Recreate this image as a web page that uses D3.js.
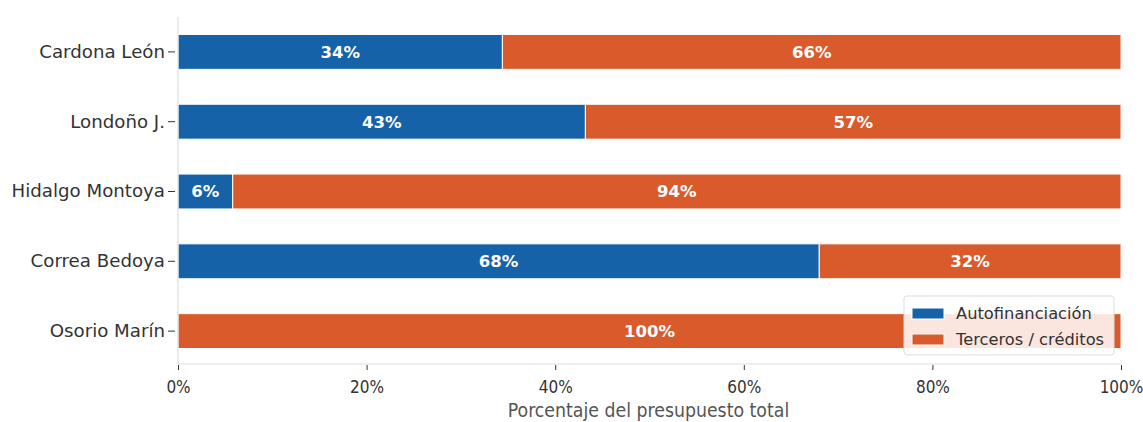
<!DOCTYPE html>
<html><head><meta charset="utf-8">
<script src="https://cdn.jsdelivr.net/npm/d3@7"></script>
<style>body{margin:0;background:#fff;}svg{display:block;}</style>
</head><body><svg id="c" width="1143" height="422"></svg>
<script>
const categories = ["Cardona León","Londoño J.","Hidalgo Montoya","Correa Bedoya","Osorio Marín"];
const autofin = [34.4, 43.2, 5.8, 68.0, 0];
const terceros = [65.6, 56.8, 94.2, 32.0, 100];
const seriesNames = ["Autofinanciación","Terceros / créditos"];
const xTicks = [0,20,40,60,80,100];
const colors = ["#1662a8","#d95b2c"];

const svg = d3.select("#c");
const m = {l:178, r:1121, t:17, b:364};
const x = d3.scaleLinear().domain([0,100]).range([m.l, m.r]);
const y = d3.scaleBand().domain(categories).range([m.t, m.t + 349]).paddingInner(0.5).paddingOuter(0.25);

const rows = categories.map((c,i)=>({c, a:autofin[i], t:terceros[i]}));
const g = svg.append("g");
rows.forEach(r=>{
  const segs = [{v0:0,v1:r.a,col:colors[0]},{v0:r.a,v1:r.a+r.t,col:colors[1]}];
  segs.forEach(s=>{
    if (s.v1-s.v0<=0) return;
    g.append("rect").attr("x",x(s.v0)).attr("y",y(r.c)).attr("width",x(s.v1)-x(s.v0)).attr("height",y.bandwidth())
      .attr("fill",s.col).attr("stroke","#fff").attr("stroke-width",1);
    g.append("text").attr("x",(x(s.v0)+x(s.v1))/2).attr("y",y(r.c)+y.bandwidth()/2).attr("dy","0.36em")
      .attr("text-anchor","middle").attr("fill","#fff").attr("font-weight","bold")
      .attr("font-family","DejaVu Sans").attr("font-size",16.5).text(Math.round(s.v1-s.v0)+"%");
  });
});

// spines
svg.append("line").attr("x1",m.l).attr("x2",m.l).attr("y1",m.t).attr("y2",m.b).attr("stroke","#ddd").attr("stroke-width",1.2);
svg.append("line").attr("x1",m.l).attr("x2",m.r).attr("y1",m.b).attr("y2",m.b).attr("stroke","#ddd").attr("stroke-width",1.2);

// x axis
const xa = svg.append("g").attr("transform",`translate(0,${m.b})`)
  .call(d3.axisBottom(x).tickValues(xTicks).tickFormat(d=>d+"%").tickSize(5).tickPadding(12));
xa.select(".domain").remove();
xa.selectAll(".tick line").attr("stroke","#333").attr("transform","translate(0,1)");
xa.selectAll("text").attr("font-family","DejaVu Sans Condensed, DejaVu Sans").attr("font-stretch","condensed")
  .attr("font-size",17).attr("fill","#333");

// y axis
const ya = svg.append("g").attr("transform",`translate(${m.l},0)`)
  .call(d3.axisLeft(y).tickSize(7).tickPadding(4));
ya.select(".domain").remove();
ya.selectAll(".tick line").attr("stroke","#333").attr("transform","translate(-3,0)");
ya.selectAll("text").attr("font-family","DejaVu Sans").attr("font-size",18.2).attr("fill","#333").attr("dx","-2");

svg.append("text").attr("x",(m.l+m.r)/2 - 1).attr("y",417).attr("text-anchor","middle")
  .attr("font-family","DejaVu Sans Condensed, DejaVu Sans").attr("font-stretch","condensed")
  .attr("font-size",19.3).attr("fill","#555").text("Porcentaje del presupuesto total");

// legend
const lg = svg.append("g").attr("transform","translate(904,296)");
lg.append("rect").attr("width",210).attr("height",59).attr("rx",3).attr("fill","#fff").attr("fill-opacity",0.85)
  .attr("stroke","#ddd").attr("stroke-width",1);
seriesNames.forEach((n,i)=>{
  lg.append("rect").attr("x",8).attr("y",12+i*26).attr("width",32).attr("height",11).attr("fill",colors[i]).attr("stroke","#fff");
  lg.append("text").attr("x",52).attr("y",17.5+i*26).attr("dy","0.35em").attr("font-family","DejaVu Sans")
    .attr("font-size",16.3).attr("fill","#333").text(n);
});
</script></body></html>
